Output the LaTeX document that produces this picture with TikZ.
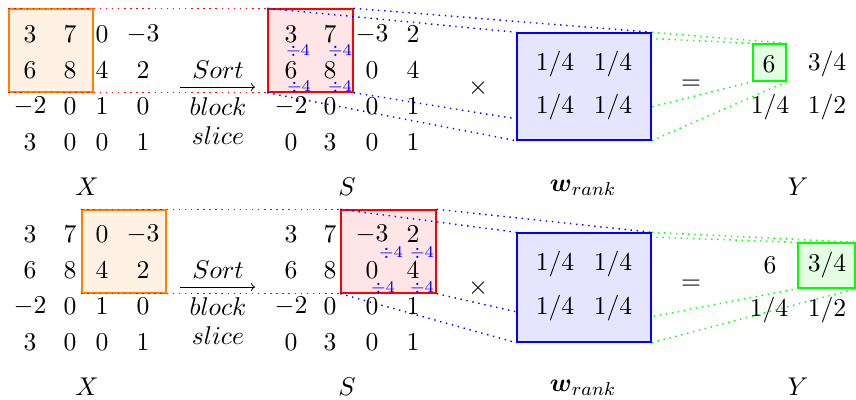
\documentclass[tikz,border=0pt]{standalone}
\usepackage{amsmath}
\usepackage{amssymb}
\usetikzlibrary{positioning,fit,backgrounds}
\tikzset{entry/.style={inner sep=0pt,font=\fontsize{11}{13.6}\selectfont},
  blockbox/.style={draw=#1,fill=#1!10,line width=0.6pt,inner sep=0pt},
  link/.style={#1,dotted,line width=0.6pt},
  divtag/.style={inner sep=0pt,text=blue,font=\fontsize{7}{8}\selectfont}}

\begin{document}
\begin{tikzpicture}[x=0.015cm,y=-0.015cm,every node/.style={entry}]
                \useasboundingbox (0,0) rectangle (856,400);
                % boxes above the links
                \node[blockbox=blue,fit={(517,33) (651,140)}] (tw) {};
                \node[blockbox=green,fit={(753,44) (786,81)}] (ty) {};
                \node[blockbox=blue,fit={(517,233) (651,342)}] (bw) {};
                \node[blockbox=green,fit={(798,243) (855,288)}] (by) {};
                % boxes below the links
                \begin{scope}[on background layer]
                \node[blockbox=orange,fit={(9,9) (93,92)}] (tx) {};
                \node[blockbox=red,fit={(268,9) (353,92)}] (ts) {};
                \node[blockbox=orange,fit={(82,210) (166,293)}] (bx) {};
                \node[blockbox=red,fit={(341,210) (436,293)}] (bs) {};
                \foreach \c in {north west,north east,south west,south east} {
                    \draw[link=red] (tx.\c) -- (ts.\c);
                    \draw[link=blue] (ts.\c) -- (tw.\c);
                    \draw[link=green] (tw.\c) -- (ty.\c);
                    \draw[link=red] (bx.\c) -- (bs.\c);
                    \draw[link=blue] (bs.\c) -- (bw.\c);
                    \draw[link=green] (bw.\c) -- (by.\c);
                }
                \end{scope}

                % top: X
                \foreach \a/\px [count=\c] in {3/30,7/70,0/102,-3/143} \node (tx1\c) at (\px,34) {$\a$};
                \foreach \a/\px [count=\c] in {6/30,8/70,4/102,2/143} \node (tx2\c) at (\px,70) {$\a$};
                \foreach \a/\px [count=\c] in {-2/30,0/70,1/102,0/143} \node (tx3\c) at (\px,106) {$\a$};
                \foreach \a/\px [count=\c] in {3/30,0/70,0/102,1/143} \node (tx4\c) at (\px,142) {$\a$};
                % top: S
                \foreach \a/\px [count=\c] in {3/291,7/330,-3/372,2/413} \node (ts1\c) at (\px,34) {$\a$};
                \foreach \a/\px [count=\c] in {6/291,8/330,0/372,4/413} \node (ts2\c) at (\px,70) {$\a$};
                \foreach \a/\px [count=\c] in {-2/291,0/330,0/372,1/413} \node (ts3\c) at (\px,106) {$\a$};
                \foreach \a/\px [count=\c] in {0/291,3/330,0/372,1/413} \node (ts4\c) at (\px,142) {$\a$};
                \node[divtag] (td1) at (298,51) {$\div 4$};
                \node[divtag] (td2) at (340,51) {$\div 4$};
                \node[divtag] (td3) at (299,87) {$\div 4$};
                \node[divtag] (td4) at (340,87) {$\div 4$};
                % top: w and Y
                \node (tw11) at (555,64) {$1/4$};
                \node (tw12) at (613,64) {$1/4$};
                \node (tw21) at (555,107) {$1/4$};
                \node (tw22) at (613,107) {$1/4$};
                \node (ty11) at (769,64) {$6$};
                \node (ty12) at (827,64) {$3/4$};
                \node (ty21) at (770,107) {$1/4$};
                \node (ty22) at (827,107) {$1/2$};
                % top: arrow and signs
                \coordinate (ta0) at (180,87);
                \coordinate (ta1) at (255,87);
                \draw[->] (ta0) -- (ta1);
                \node (tsort) at (218,70) {$Sort$};
                \node (tblock) at (218,107) {$block$};
                \node (tslice) at (218,136) {$slice$};
                \node (ttimes) at (478,88) {$\times$};
                \node (tequal) at (691,85) {$=$};
                \node (tlx) at (87,187) {$X$};
                \node (tls) at (347,187) {$S$};
                \node (tlw) at (583,188) {$\boldsymbol{w}_{rank}$};
                \node (tly) at (798,187) {$Y$};

                % bottom: X
                \foreach \a/\px [count=\c] in {3/30,7/70,0/102,-3/143} \node (bx1\c) at (\px,234) {$\a$};
                \foreach \a/\px [count=\c] in {6/30,8/70,4/102,2/143} \node (bx2\c) at (\px,270) {$\a$};
                \foreach \a/\px [count=\c] in {-2/30,0/70,1/102,0/143} \node (bx3\c) at (\px,306) {$\a$};
                \foreach \a/\px [count=\c] in {3/30,0/70,0/102,1/143} \node (bx4\c) at (\px,342) {$\a$};
                % bottom: S
                \foreach \a/\px [count=\c] in {3/291,7/330,-3/372,2/413} \node (bs1\c) at (\px,234) {$\a$};
                \foreach \a/\px [count=\c] in {6/291,8/330,0/372,4/413} \node (bs2\c) at (\px,270) {$\a$};
                \foreach \a/\px [count=\c] in {-2/291,0/330,0/372,1/413} \node (bs3\c) at (\px,306) {$\a$};
                \foreach \a/\px [count=\c] in {0/291,3/330,0/372,1/413} \node (bs4\c) at (\px,342) {$\a$};
                \node[divtag] (bd1) at (391,253) {$\div 4$};
                \node[divtag] (bd2) at (422,253) {$\div 4$};
                \node[divtag] (bd3) at (383,288) {$\div 4$};
                \node[divtag] (bd4) at (422,288) {$\div 4$};
                % bottom: w and Y
                \node (bw11) at (555,264) {$1/4$};
                \node (bw12) at (613,264) {$1/4$};
                \node (bw21) at (555,308) {$1/4$};
                \node (bw22) at (613,308) {$1/4$};
                \node (by11) at (770,265) {$6$};
                \node (by12) at (827,265) {$3/4$};
                \node (by21) at (769,310) {$1/4$};
                \node (by22) at (827,310) {$1/2$};
                % bottom: arrow and signs
                \coordinate (ba0) at (180,287);
                \coordinate (ba1) at (255,287);
                \draw[->] (ba0) -- (ba1);
                \node (bsort) at (218,270) {$Sort$};
                \node (bblock) at (218,307) {$block$};
                \node (bslice) at (218,336) {$slice$};
                \node (btimes) at (478,288) {$\times$};
                \node (bequal) at (691,285) {$=$};
                \node (blx) at (87,387) {$X$};
                \node (bls) at (347,387) {$S$};
                \node (blw) at (583,388) {$\boldsymbol{w}_{rank}$};
                \node (bly) at (798,387) {$Y$};
            \end{tikzpicture}
\end{document}
